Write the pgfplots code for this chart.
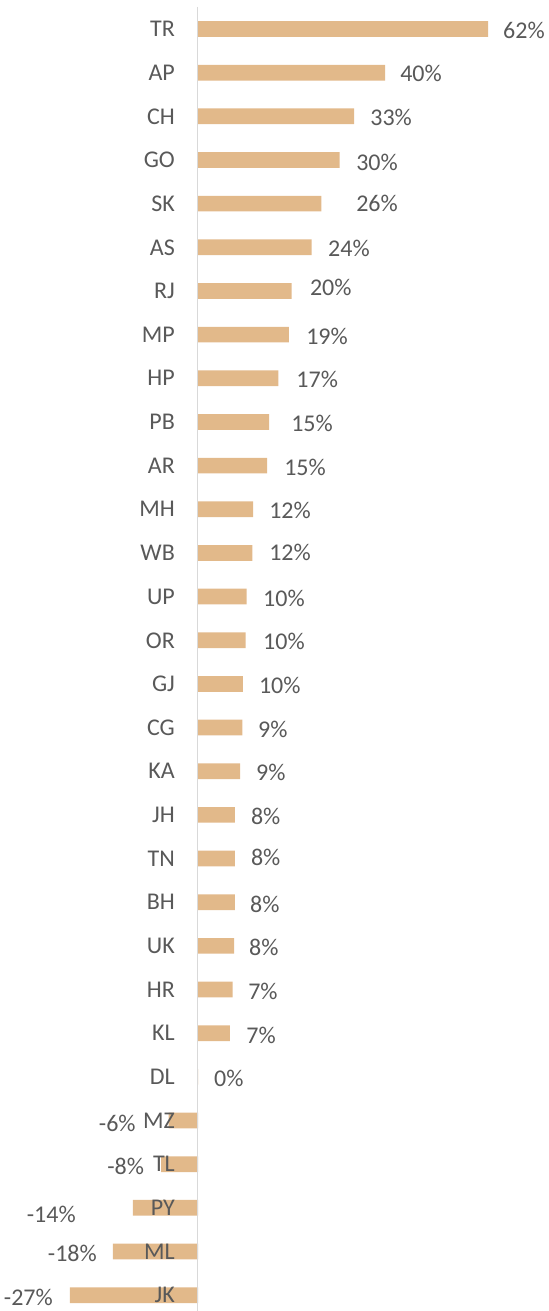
\documentclass[border=0pt]{standalone}
\usepackage{pgfplots}
\pgfplotsset{compat=1.18}
\usepackage{pgfplotstable}
\usepackage{fontspec}
\setmainfont{Carlito}
\definecolor{barc}{RGB}{226,185,138}
\definecolor{txt}{RGB}{89,89,89}
\definecolor{axc}{RGB}{217,217,217}

% bar values (row index from top, value in %)
\pgfplotstableread{
y x lab
0 62.0 TR
1 40.0 AP
2 33.4 CH
3 30.3 GO
4 26.4 SK
5 24.3 AS
6 20.0 RJ
7 19.4 MP
8 17.2 HP
9 15.2 PB
10 14.8 AR
11 11.8 MH
12 11.6 WB
13 10.4 UP
14 10.2 OR
15 9.6 GJ
16 9.5 CG
17 9.0 KA
18 7.9 JH
19 7.9 TN
20 7.9 BH
21 7.7 UK
22 7.4 HR
23 6.8 KL
24 0.0 DL
25 -6.3 MZ
26 -7.9 TL
27 -13.9 PY
28 -18.2 ML
29 -27.4 JK
}\bars

% value label positions (positive: left edge)
\pgfplotstableread{
y x lab
0.02 65.2 62
1.01 43.2 40
2.02 36.8 33
3.05 33.8 30
3.99 33.8 26
5.02 27.8 24
5.91 23.9 20
7.03 23.1 19
8.02 21.0 17
9.02 19.9 15
10.03 18.4 15
11.02 15.2 12
11.98 15.2 12
13.03 13.9 10
14.02 13.9 10
15.03 13.0 10
16.03 12.8 9
17.02 12.4 9
18.03 11.3 8
18.96 11.3 8
20.04 11.1 8
21.03 10.9 8
22.03 10.7 7
23.04 10.3 7
24.03 3.4 0
}\poslab

% value label positions (negative: right edge)
\pgfplotstableread{
y x lab
25.06 -13.3 -6
26.04 -11.5 -8
27.14 -26.1 -14
28.03 -21.6 -18
29.04 -31.0 -27
}\neglab

\begin{document}
\begin{tikzpicture}
\begin{axis}[
  name=ax,
  scale only axis,
  width=548bp, height=1311bp,
  xmin=-42.335, xmax=74.83,
  ymin=-0.6642, ymax=29.363,
  y dir=reverse,
  hide axis,
  clip=false,
  every node near coord/.append style={font=\fontsize{24bp}{28bp}\selectfont, text=txt, inner sep=0pt, text depth=0pt},
]
\addplot[xbar, bar width=15.7bp, bar shift=0pt, fill=barc, draw=none] table[x=x, y=y] {\bars};
\addplot[axc, line width=1.6bp, forget plot] coordinates {(-0.1,-0.504) (-0.1,29.363)};
% category labels
\addplot[draw=none, mark=none, forget plot, nodes near coords, point meta=explicit symbolic,
  nodes near coords style={anchor=east}] table[x expr=-4.92, y=y, meta=lab] {\bars};
% value labels
\addplot[draw=none, mark=none, forget plot, nodes near coords={\pgfplotspointmeta\%}, point meta=explicit symbolic,
  nodes near coords style={anchor=west}] table[x=x, y=y, meta=lab] {\poslab};
\addplot[draw=none, mark=none, forget plot, nodes near coords={\pgfplotspointmeta\%}, point meta=explicit symbolic,
  nodes near coords style={anchor=east}] table[x=x, y=y, meta=lab] {\neglab};
\end{axis}
\pgfresetboundingbox
\path (ax.south west) rectangle (ax.north east);
\end{tikzpicture}
\end{document}
